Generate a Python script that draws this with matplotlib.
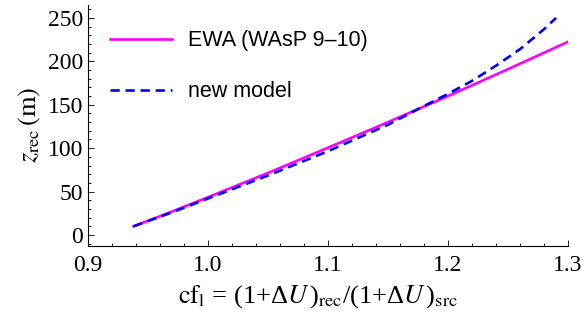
import matplotlib
matplotlib.use('Agg')
import matplotlib.pyplot as plt
from matplotlib.ticker import MultipleLocator

# values
ewa_x = [0.938, 0.97, 1.0, 1.05, 1.1, 1.15, 1.2, 1.25, 1.3]
ewa_z = [10, 27, 43.5, 71.5, 100.5, 130, 160, 191, 222.5]
new_x = [0.938, 0.97, 1.0, 1.05, 1.1, 1.15, 1.18, 1.2, 1.22, 1.24, 1.26, 1.28, 1.29]
new_z = [10, 26, 42, 68.5, 96.5, 127, 148.5, 162.5, 177.5, 195, 214, 237, 250]

plt.rcParams['font.family'] = ['Liberation Serif', 'DejaVu Serif']
plt.rcParams['mathtext.fontset'] = 'stix'

fig = plt.figure(figsize=(5.82, 3.25), dpi=100)
ax = fig.add_axes([0.151, 0.244, 0.825, 0.741])

ax.plot(ewa_x, ewa_z, color='#FF00FF', lw=1.9, label='EWA (WAsP 9–10)')
ax.plot(new_x, new_z, color='#0000FF', lw=1.9, ls=(0, (3.5, 2.2)), label='new model')

ax.set_xlim(0.9, 1.3)
ax.set_ylim(-12.3, 265)
ax.xaxis.set_major_locator(MultipleLocator(0.1))
ax.xaxis.set_minor_locator(MultipleLocator(0.02))
ax.yaxis.set_major_locator(MultipleLocator(50))
ax.yaxis.set_minor_locator(MultipleLocator(10))
ax.xaxis.set_major_formatter(plt.FuncFormatter(lambda v, p: f'{v:.1f}'))

for s in ['top', 'right']:
    ax.spines[s].set_visible(False)
for s in ['left', 'bottom']:
    ax.spines[s].set_linewidth(0.8)
ax.tick_params(which='both', direction='in', labelsize=17, width=0.6)
ax.tick_params(which='major', length=4)
ax.tick_params(which='minor', length=2)
ax.tick_params(axis='x', pad=7)

ax.set_xlabel(r'$\mathrm{cf}_\mathrm{l}$ = (1+Δ$U\,$)$_\mathrm{rec}$/(1+Δ$U\,$)$_\mathrm{src}$',
              fontsize=19, labelpad=5, x=0.48)
ax.set_ylabel(r'$z_\mathrm{rec}\,(\mathrm{m})$', fontsize=19, labelpad=3)

ax.legend(loc='upper left', bbox_to_anchor=(0.005, 0.975), frameon=False,
          prop={'family': 'Liberation Sans', 'size': 15.5},
          handlelength=2.9, handletextpad=0.75, labelspacing=1.4)

fig.savefig('out.png', dpi=100)
